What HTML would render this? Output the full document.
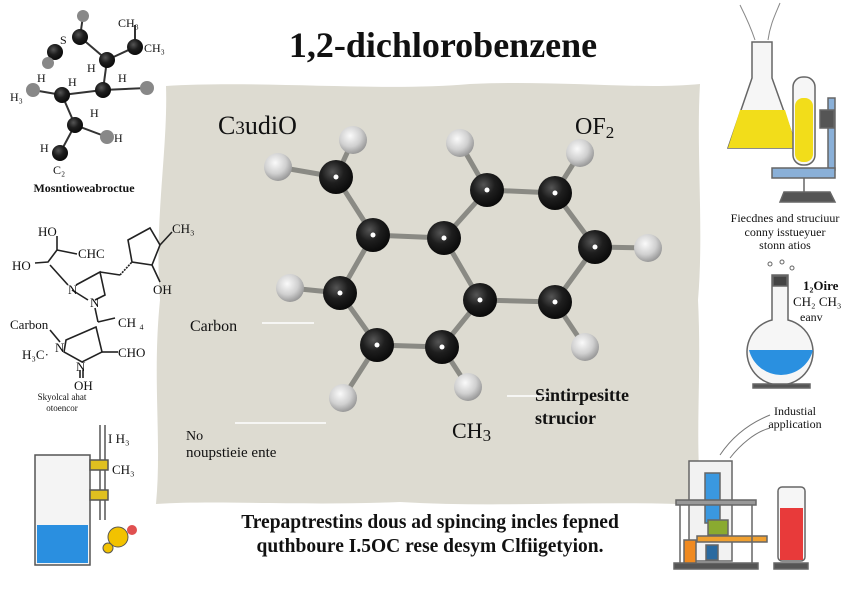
<!DOCTYPE html>
<html><head><meta charset="utf-8"><style>
html,body{margin:0;padding:0;background:#fff;}
svg{display:block;}
text{font-family:"Liberation Serif",serif;fill:#111;}
</style></head><body>
<svg width="860" height="602" viewBox="0 0 860 602" xmlns="http://www.w3.org/2000/svg">
<defs>
<radialGradient id="bk" cx="0.4" cy="0.35" r="0.65"><stop offset="0" stop-color="#555"/><stop offset="0.5" stop-color="#1e1e1e"/><stop offset="1" stop-color="#0a0a0a"/></radialGradient>
<radialGradient id="gr" cx="0.4" cy="0.35" r="0.65"><stop offset="0" stop-color="#fafafa"/><stop offset="0.6" stop-color="#d0d0d0"/><stop offset="1" stop-color="#9a9a9a"/></radialGradient>
</defs>
<path d="M166,86 C260,80 380,92 470,84 C560,80 640,90 700,84 C696,150 704,230 698,300 C702,380 694,440 702,505 C600,500 500,508 400,502 C300,506 220,500 156,504 C162,440 152,380 160,300 C154,220 168,150 166,86 Z" fill="#dddbd1"/>
<text x="443" y="57" font-size="36" font-weight="bold" text-anchor="middle">1,2-dichlorobenzene</text>
<text x="218" y="134" font-size="26">C<tspan font-size="19">3</tspan>udiO</text>
<text x="575" y="134" font-size="24">OF<tspan font-size="17" dy="4">2</tspan></text>
<text x="190" y="331" font-size="16">Carbon</text>
<line x1="262" y1="323" x2="314" y2="323" stroke="#fff" stroke-width="1.5"/>
<text x="535" y="401" font-size="18" font-weight="bold">Sintirpesitte</text>
<text x="535" y="424" font-size="18" font-weight="bold">strucior</text>
<line x1="507" y1="396" x2="548" y2="396" stroke="#fff" stroke-width="1.5"/>
<text x="452" y="438" font-size="22">CH<tspan font-size="17" dy="3">3</tspan></text>
<text x="186" y="440" font-size="14">No</text>
<text x="186" y="457" font-size="15">noupstieie ente</text>
<line x1="235" y1="423" x2="326" y2="423" stroke="#fff" stroke-width="1.5"/>
<text x="430" y="528" font-size="19.5" font-weight="bold" text-anchor="middle">Trepaptrestins dous ad spincing incles fepned</text>
<text x="430" y="552" font-size="19.5" font-weight="bold" text-anchor="middle">quthboure I.5OC rese desym Clfiigetyion.</text>
<g stroke="#8a8a84" stroke-width="5" stroke-linecap="round">
<line x1="336" y1="177" x2="373" y2="235"/><line x1="373" y1="235" x2="444" y2="238"/>
<line x1="444" y1="238" x2="487" y2="190"/><line x1="487" y1="190" x2="555" y2="193"/>
<line x1="555" y1="193" x2="595" y2="247"/><line x1="595" y1="247" x2="555" y2="302"/>
<line x1="555" y1="302" x2="480" y2="300"/><line x1="480" y1="300" x2="444" y2="238"/>
<line x1="373" y1="235" x2="340" y2="293"/><line x1="340" y1="293" x2="377" y2="345"/>
<line x1="377" y1="345" x2="442" y2="347"/><line x1="442" y1="347" x2="480" y2="300"/>
<line x1="336" y1="177" x2="353" y2="140"/><line x1="336" y1="177" x2="278" y2="167"/>
<line x1="487" y1="190" x2="460" y2="143"/><line x1="555" y1="193" x2="580" y2="153"/>
<line x1="595" y1="247" x2="648" y2="248"/><line x1="555" y1="302" x2="585" y2="347"/>
<line x1="442" y1="347" x2="468" y2="387"/><line x1="377" y1="345" x2="343" y2="398"/>
<line x1="340" y1="293" x2="290" y2="288"/>
</g>
<g fill="url(#gr)">
<circle cx="353" cy="140" r="14"/><circle cx="278" cy="167" r="14"/><circle cx="460" cy="143" r="14"/>
<circle cx="580" cy="153" r="14"/><circle cx="648" cy="248" r="14"/><circle cx="585" cy="347" r="14"/>
<circle cx="468" cy="387" r="14"/><circle cx="343" cy="398" r="14"/><circle cx="290" cy="288" r="14"/>
</g>
<g fill="url(#bk)">
<circle cx="336" cy="177" r="17"/><circle cx="373" cy="235" r="17"/><circle cx="444" cy="238" r="17"/>
<circle cx="487" cy="190" r="17"/><circle cx="555" cy="193" r="17"/><circle cx="595" cy="247" r="17"/>
<circle cx="555" cy="302" r="17"/><circle cx="480" cy="300" r="17"/><circle cx="340" cy="293" r="17"/>
<circle cx="377" cy="345" r="17"/><circle cx="442" cy="347" r="17"/>
</g>
<g fill="#fff">
<circle cx="336" cy="177" r="2.5"/><circle cx="373" cy="235" r="2.5"/><circle cx="444" cy="238" r="2.5"/>
<circle cx="487" cy="190" r="2.5"/><circle cx="555" cy="193" r="2.5"/><circle cx="595" cy="247" r="2.5"/>
<circle cx="555" cy="302" r="2.5"/><circle cx="480" cy="300" r="2.5"/><circle cx="340" cy="293" r="2.5"/>
<circle cx="377" cy="345" r="2.5"/><circle cx="442" cy="347" r="2.5"/>
</g>
<g stroke="#333" stroke-width="2">
<line x1="83" y1="16" x2="80" y2="37"/><line x1="80" y1="37" x2="107" y2="60"/><line x1="107" y1="60" x2="135" y2="47"/>
<line x1="107" y1="60" x2="103" y2="90"/><line x1="103" y1="90" x2="62" y2="95"/><line x1="62" y1="95" x2="75" y2="125"/>
<line x1="75" y1="125" x2="107" y2="137"/><line x1="75" y1="125" x2="60" y2="153"/><line x1="55" y1="52" x2="48" y2="63"/>
<line x1="33" y1="90" x2="62" y2="95"/><line x1="103" y1="90" x2="147" y2="88"/><line x1="135" y1="47" x2="135" y2="25"/>
</g>
<g fill="url(#bk)"><circle cx="80" cy="37" r="8"/><circle cx="55" cy="52" r="8"/><circle cx="107" cy="60" r="8"/><circle cx="135" cy="47" r="8"/><circle cx="103" cy="90" r="8"/><circle cx="62" cy="95" r="8"/><circle cx="75" cy="125" r="8"/><circle cx="60" cy="153" r="8"/></g>
<g fill="#888"><circle cx="83" cy="16" r="6"/><circle cx="48" cy="63" r="6"/><circle cx="147" cy="88" r="7"/><circle cx="33" cy="90" r="7"/><circle cx="107" cy="137" r="7"/></g>
<g font-size="12"><text x="118" y="27">CH₃</text><text x="144" y="52">CH₃</text><text x="60" y="44">S</text><text x="37" y="82">H</text><text x="68" y="86">H</text><text x="10" y="101">H₃</text><text x="87" y="72">H</text><text x="118" y="82">H</text><text x="90" y="117">H</text><text x="114" y="142">H</text><text x="40" y="152">H</text><text x="53" y="174">C₂</text></g>
<text x="84" y="192" font-size="12" font-weight="bold" text-anchor="middle">Mosntioweabroctue</text>
<g stroke="#222" stroke-width="1.6" fill="none">
<polyline points="57,236 57,250 48,262 35,263"/><line x1="57" y1="250" x2="77" y2="254"/>
<line x1="50" y1="265" x2="68" y2="285"/><polyline points="76,285 100,272 105,295 95,300"/>
<line x1="72" y1="290" x2="88" y2="300"/><line x1="100" y1="272" x2="120" y2="275"/>
<polygon points="128,240 150,228 160,245 152,265 132,262"/><line x1="160" y1="245" x2="172" y2="232"/><line x1="152" y1="265" x2="160" y2="282"/>
<line x1="120" y1="275" x2="132" y2="262" stroke-dasharray="2,1"/>
<line x1="95" y1="308" x2="98" y2="322"/><line x1="98" y1="322" x2="115" y2="318"/>
<polygon points="66,340 96,327 102,352 82,362 64,352"/><line x1="102" y1="352" x2="118" y2="352"/>
<line x1="50" y1="330" x2="60" y2="342"/><line x1="80" y1="370" x2="80" y2="378"/><line x1="83" y1="370" x2="83" y2="378"/>
</g>
<g font-size="13"><text x="38" y="236">HO</text><text x="78" y="258">CHC</text><text x="12" y="270">HO</text><text x="68" y="294">N</text><text x="90" y="307">N</text>
<text x="172" y="233">CH₃</text><text x="153" y="294">OH</text><text x="118" y="327">CH ₄</text><text x="10" y="329">Carbon</text>
<text x="22" y="359">H₃C·</text><text x="55" y="352">N</text><text x="118" y="357">CHO</text><text x="76" y="371">N</text><text x="74" y="390">OH</text></g>
<text x="62" y="400" font-size="9" text-anchor="middle">Skyolcal ahat</text>
<text x="62" y="411" font-size="9" text-anchor="middle">otoencor</text>
<g stroke="#555" stroke-width="1.5" fill="none">
<rect x="35" y="455" width="55" height="110" fill="#f4f4f4"/>
<line x1="100" y1="425" x2="100" y2="520"/><line x1="105" y1="425" x2="105" y2="520"/>
<rect x="90" y="460" width="18" height="10" fill="#e0c020"/><rect x="90" y="490" width="18" height="10" fill="#e0c020"/>
</g>
<path d="M37,525 L88,525 L88,563 L37,563 Z" fill="#2a8fe0"/>
<text x="108" y="443" font-size="13">I H₃</text><text x="112" y="474" font-size="13">CH₃</text>
<circle cx="118" cy="537" r="10" fill="#f2c200" stroke="#555"/><circle cx="132" cy="530" r="5" fill="#e05050"/><circle cx="108" cy="548" r="5" fill="#f2c200" stroke="#555"/>
<g stroke="#666" stroke-width="1.5">
<path d="M752,42 L772,42 L772,78 L797,148 L728,148 L752,78 Z" fill="#f6f6f6"/>
<path d="M740,110 L785,110 L797,148 L728,148 Z" fill="#f2dd1a" stroke="none"/>
<rect x="793" y="77" width="22" height="88" rx="10" fill="#f6f6f6"/>
<rect x="795" y="98" width="18" height="64" rx="8" fill="#f2dd1a" stroke="none"/>
<rect x="828" y="98" width="7" height="72" fill="#8ab0d8"/>
<rect x="772" y="168" width="63" height="10" fill="#8ab0d8"/>
<rect x="820" y="110" width="14" height="18" fill="#555"/>
<line x1="804" y1="178" x2="804" y2="192"/>
<path d="M780,202 L784,192 L830,192 L835,202 Z" fill="#555"/>
</g>
<path d="M755,40 C750,25 745,15 740,5 M768,40 C770,25 775,15 780,3" stroke="#888" fill="none"/>
<text x="785" y="222" font-size="12" text-anchor="middle">Fiecdnes and struciuur</text>
<text x="785" y="236" font-size="12" text-anchor="middle">conny isstueyuer</text>
<text x="785" y="249" font-size="12" text-anchor="middle">stonn atios</text>
<g stroke="#666" stroke-width="1.5">
<path d="M772,275 L788,275 L788,320 A33,33 0 1 1 772,320 Z" fill="#f6f6f6"/>
<path d="M749,350 L813,350 A33,33 0 0 1 749,350 Z" fill="#2a90e0" stroke="none"/>
<rect x="773" y="276" width="14" height="10" fill="#444"/>
<rect x="753" y="384" width="57" height="4" fill="#555"/>
</g>
<g fill="none" stroke="#666"><circle cx="770" cy="264" r="2"/><circle cx="782" cy="262" r="2"/><circle cx="792" cy="268" r="2"/></g>
<text x="803" y="290" font-size="13" font-weight="bold">1₂Oire</text>
<text x="793" y="306" font-size="13">CH₂ CH₃</text>
<text x="800" y="321" font-size="12">eanv</text>
<text x="795" y="415" font-size="12" text-anchor="middle">Industial</text>
<text x="795" y="428" font-size="12" text-anchor="middle">application</text>
<path d="M720,455 C730,440 745,425 770,415 M730,458 C740,445 755,432 770,428" stroke="#777" fill="none"/>
<g stroke="#666" stroke-width="1.5">
<rect x="689" y="461" width="43" height="100" fill="#f2f2f2"/>
<rect x="705" y="473" width="15" height="50" fill="#3a98e0"/>
<rect x="676" y="500" width="80" height="5" fill="#999"/>
<rect x="708" y="520" width="20" height="15" fill="#8aaa30"/>
<rect x="684" y="540" width="12" height="25" fill="#f08a20"/>
<rect x="706" y="545" width="12" height="15" fill="#2a6aa0"/>
<rect x="697" y="536" width="70" height="6" fill="#f0a030"/>
<rect x="778" y="487" width="27" height="74" rx="4" fill="#f6f6f6"/>
<rect x="780" y="508" width="23" height="52" fill="#e83a3a" stroke="none"/>
<rect x="674" y="563" width="84" height="6" fill="#555"/>
<rect x="774" y="563" width="34" height="6" fill="#555"/>
<line x1="680" y1="505" x2="680" y2="563"/><line x1="752" y1="505" x2="752" y2="563"/>
</g>
</svg>
</body></html>
